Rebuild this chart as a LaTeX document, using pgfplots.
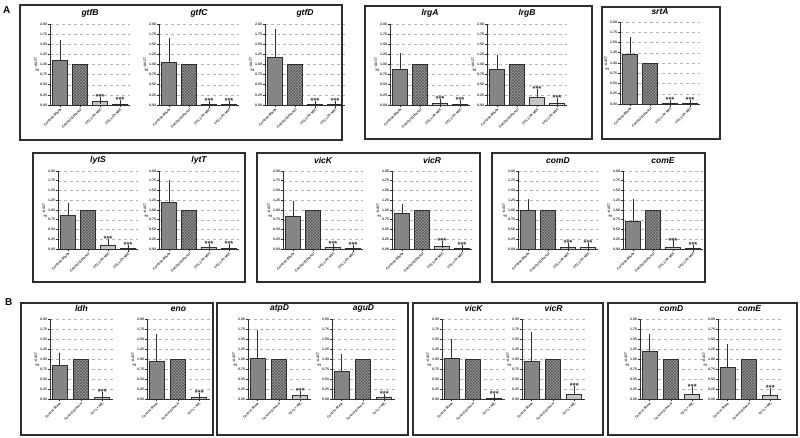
\documentclass[border=0pt]{standalone}
\usepackage{fontspec}
\setmainfont{Liberation Sans}
\usepackage{pgfplots}
\pgfplotsset{compat=1.18}
\usetikzlibrary{patterns}
\definecolor{edge}{HTML}{2E2E2E}
\definecolor{barA}{HTML}{858585}
\definecolor{barB}{HTML}{9A9A9A}
\definecolor{barC}{HTML}{C4C4C4}
\definecolor{barD}{HTML}{DADADA}

\pgfplotsset{
  gene/.style={
    scale only axis, anchor=south west, clip=false,
    axis lines=left, axis line style={edge, line width=0.9pt, -},
    ymin=0, ymax=2,
    ytick={0,0.25,...,2},
    yticklabels={0.00,0.25,0.50,0.75,1.00,1.25,1.50,1.75,2.00},
    ymajorgrids, grid style={gray!60, dashed, line width=0.35pt},
    tick align=outside, major tick length=2pt,
    tick style={edge, line width=0.6pt},
    ticklabel style={font=\fontsize{3.5}{4}\selectfont\bfseries, text=edge},
    yticklabel style={inner sep=0.8pt},
    xticklabel style={rotate=45, anchor=north east, inner sep=0.6pt},
    ylabel={2\textsuperscript{ –ΔΔCT}},
    ylabel style={font=\fontsize{4.6}{5}\selectfont\bfseries, text=edge, yshift=-3pt},
    title style={font=\fontsize{8.5}{9}\selectfont\bfseries\itshape, anchor=south, at={(0.5,1)}, inner sep=1pt},
    ybar, bar width=0.72,
  },
  four/.style={gene, xmin=-0.5, xmax=3.5, width=80pt,
    xtick={0,1,2,3},
    xticklabels={Control-Blank,Control-Ethanol,TF3 1/4× MIC,TF3 1/2× MIC}},
  three/.style={gene, xmin=-0.45, xmax=2.5, width=63pt, bar width=0.7,
    xtick={0,1,2},
    xticklabel style={font=\fontsize{3.2}{3.6}\selectfont\bfseries},
    xticklabels={Control-Blank,Control-Ethanol,TF3 1× MIC}},
  eb/.style={error bars/.cd, y dir=plus, y explicit,
    error bar style={edge, line width=0.8pt},
    error mark options={edge, line width=0.8pt, mark size=3.5pt}},
  b1/.style={fill=barA, draw=edge, line width=0.8pt, bar shift=0pt, eb},
  b2/.style={fill=barB, draw=edge, line width=0.8pt, bar shift=0pt,
    postaction={pattern=crosshatch, pattern color=edge!80}},
  b3/.style={fill=barC, draw=edge, line width=0.8pt, bar shift=0pt, eb},
  b4/.style={fill=barD, draw=edge, line width=0.8pt, bar shift=0pt, eb},
}
\tikzset{
  stars/.style={anchor=south, inner sep=0.3pt, font=\fontsize{7.5}{7.5}\selectfont\bfseries, text=edge},
  panel/.style={draw=edge, line width=1.4pt},
  letter/.style={anchor=north west, inner sep=0pt, font=\fontsize{10}{10}\selectfont\bfseries},
}

\begin{document}
\begin{tikzpicture}
\path[use as bounding box, fill=white] (0,0) rectangle (800pt,-437pt);

\node[letter] at (3pt,-6pt) {A};
\node[letter] at (5pt,-298pt) {B};

% ---------- A, row 1 ----------
\draw[panel] (20pt,-5pt) rectangle (342pt,-140pt);
\draw[panel] (365pt,-6pt) rectangle (592pt,-139pt);
\draw[panel] (602pt,-7pt) rectangle (720pt,-139pt);

\begin{axis}[four, at={(50pt,-105pt)}, height=81pt, title={gtfB}]
\addplot[b1] coordinates {(0,1.10) +- (0,0.42)};
\addplot[b2] coordinates {(1,1.00)};
\addplot[b3] coordinates {(2,0.08) +- (0,0.03)};
\addplot[b4] coordinates {(3,0.02) +- (0,0.01)};
\node[stars] at (axis cs:2,0.12) {***};
\node[stars] at (axis cs:3,0.04) {***};
\end{axis}

\begin{axis}[four, at={(159pt,-105pt)}, height=81pt, title={gtfC}]
\addplot[b1] coordinates {(0,1.05) +- (0,0.52)};
\addplot[b2] coordinates {(1,1.00)};
\addplot[b3] coordinates {(2,0.005) +- (0,0.002)};
\addplot[b4] coordinates {(3,0.004) +- (0,0.002)};
\node[stars] at (axis cs:2,0.02) {***};
\node[stars] at (axis cs:3,0.02) {***};
\end{axis}

\begin{axis}[four, at={(265pt,-105pt)}, height=81pt, title={gtfD}]
\addplot[b1] coordinates {(0,1.17) +- (0,0.63)};
\addplot[b2] coordinates {(1,1.00)};
\addplot[b3] coordinates {(2,0.01) +- (0,0.005)};
\addplot[b4] coordinates {(3,0.004) +- (0,0.002)};
\node[stars] at (axis cs:2,0.02) {***};
\node[stars] at (axis cs:3,0.02) {***};
\end{axis}

\begin{axis}[four, at={(390pt,-105pt)}, height=81pt, title={lrgA}]
\addplot[b1] coordinates {(0,0.88) +- (0,0.32)};
\addplot[b2] coordinates {(1,1.00)};
\addplot[b3] coordinates {(2,0.05) +- (0,0.01)};
\addplot[b4] coordinates {(3,0.02) +- (0,0.01)};
\node[stars] at (axis cs:2,0.07) {***};
\node[stars] at (axis cs:3,0.04) {***};
\end{axis}

\begin{axis}[four, at={(487pt,-105pt)}, height=81pt, title={lrgB}]
\addplot[b1] coordinates {(0,0.87) +- (0,0.29)};
\addplot[b2] coordinates {(1,1.00)};
\addplot[b3] coordinates {(2,0.20) +- (0,0.11)};
\addplot[b4] coordinates {(3,0.05) +- (0,0.04)};
\node[stars] at (axis cs:2,0.32) {***};
\node[stars] at (axis cs:3,0.10) {***};
\end{axis}

\begin{axis}[four, at={(620pt,-104pt)}, height=82pt, title={srtA}]
\addplot[b1] coordinates {(0,1.21) +- (0,0.33)};
\addplot[b2] coordinates {(1,1.00)};
\addplot[b3] coordinates {(2,0.01) +- (0,0.005)};
\addplot[b4] coordinates {(3,0.004) +- (0,0.002)};
\node[stars] at (axis cs:2,0.02) {***};
\node[stars] at (axis cs:3,0.02) {***};
\end{axis}

% ---------- A, row 2 ----------
\draw[panel] (33pt,-153pt) rectangle (245pt,-282pt);
\draw[panel] (257pt,-153pt) rectangle (480pt,-282pt);
\draw[panel] (492pt,-153pt) rectangle (705pt,-282pt);

\begin{axis}[four, at={(58pt,-249pt)}, height=78pt, title={lytS}]
\addplot[b1] coordinates {(0,0.86) +- (0,0.24)};
\addplot[b2] coordinates {(1,1.00)};
\addplot[b3] coordinates {(2,0.08) +- (0,0.08)};
\addplot[b4] coordinates {(3,0.01) +- (0,0.005)};
\node[stars] at (axis cs:2,0.17) {***};
\node[stars] at (axis cs:3,0.02) {***};
\end{axis}

\begin{axis}[four, at={(159pt,-249pt)}, height=78pt, title={lytT}]
\addplot[b1] coordinates {(0,1.20) +- (0,0.48)};
\addplot[b2] coordinates {(1,1.00)};
\addplot[b3] coordinates {(2,0.04) +- (0,0.01)};
\addplot[b4] coordinates {(3,0.02) +- (0,0.01)};
\node[stars] at (axis cs:2,0.06) {***};
\node[stars] at (axis cs:3,0.04) {***};
\end{axis}

\begin{axis}[four, at={(283pt,-249pt)}, height=78pt, title={vicK}]
\addplot[b1] coordinates {(0,0.83) +- (0,0.30)};
\addplot[b2] coordinates {(1,1.00)};
\addplot[b3] coordinates {(2,0.03) +- (0,0.02)};
\addplot[b4] coordinates {(3,0.004) +- (0,0.002)};
\node[stars] at (axis cs:2,0.06) {***};
\node[stars] at (axis cs:3,0.02) {***};
\end{axis}

\begin{axis}[four, at={(392pt,-249pt)}, height=78pt, title={vicR}]
\addplot[b1] coordinates {(0,0.91) +- (0,0.16)};
\addplot[b2] coordinates {(1,1.00)};
\addplot[b3] coordinates {(2,0.06) +- (0,0.05)};
\addplot[b4] coordinates {(3,0.01) +- (0,0.005)};
\node[stars] at (axis cs:2,0.12) {***};
\node[stars] at (axis cs:3,0.02) {***};
\end{axis}

\begin{axis}[four, at={(518pt,-249pt)}, height=78pt, title={comD}]
\addplot[b1] coordinates {(0,0.99) +- (0,0.20)};
\addplot[b2] coordinates {(1,1.00)};
\addplot[b3] coordinates {(2,0.05) +- (0,0.02)};
\addplot[b4] coordinates {(3,0.05) +- (0,0.02)};
\node[stars] at (axis cs:2,0.08) {***};
\node[stars] at (axis cs:3,0.08) {***};
\end{axis}

\begin{axis}[four, at={(623pt,-249pt)}, height=78pt, title={comE}]
\addplot[b1] coordinates {(0,0.71) +- (0,0.49)};
\addplot[b2] coordinates {(1,1.00)};
\addplot[b3] coordinates {(2,0.05) +- (0,0.08)};
\addplot[b4] coordinates {(3,0.01) +- (0,0.005)};
\node[stars] at (axis cs:2,0.14) {***};
\node[stars] at (axis cs:3,0.02) {***};
\end{axis}

% ---------- B ----------
\draw[panel] (21pt,-303pt) rectangle (213pt,-435pt);
\draw[panel] (217pt,-303pt) rectangle (408pt,-435pt);
\draw[panel] (413pt,-303pt) rectangle (603pt,-435pt);
\draw[panel] (608pt,-303pt) rectangle (797pt,-435pt);

\begin{axis}[three, at={(50pt,-399pt)}, height=80pt, title={ldh}]
\addplot[b1] coordinates {(0,0.84) +- (0,0.22)};
\addplot[b2] coordinates {(1,1.00)};
\addplot[b3] coordinates {(2,0.05) +- (0,0.03)};
\node[stars] at (axis cs:2,0.09) {***};
\end{axis}

\begin{axis}[three, at={(147pt,-399pt)}, height=80pt, title={eno}]
\addplot[b1] coordinates {(0,0.93) +- (0,0.60)};
\addplot[b2] coordinates {(1,1.00)};
\addplot[b3] coordinates {(2,0.05) +- (0,0.02)};
\node[stars] at (axis cs:2,0.08) {***};
\end{axis}

\begin{axis}[three, at={(248pt,-399pt)}, height=80pt, title={atpD}]
\addplot[b1] coordinates {(0,1.01) +- (0,0.64)};
\addplot[b2] coordinates {(1,1.00)};
\addplot[b3] coordinates {(2,0.08) +- (0,0.03)};
\node[stars] at (axis cs:2,0.12) {***};
\end{axis}

\begin{axis}[three, at={(332pt,-399pt)}, height=80pt, title={aguD}]
\addplot[b1] coordinates {(0,0.70) +- (0,0.35)};
\addplot[b2] coordinates {(1,1.00)};
\addplot[b3] coordinates {(2,0.03) +- (0,0.01)};
\node[stars] at (axis cs:2,0.05) {***};
\end{axis}

\begin{axis}[three, at={(442pt,-399pt)}, height=80pt, title={vicK}]
\addplot[b1] coordinates {(0,1.01) +- (0,0.41)};
\addplot[b2] coordinates {(1,1.00)};
\addplot[b3] coordinates {(2,0.02) +- (0,0.01)};
\node[stars] at (axis cs:2,0.04) {***};
\end{axis}

\begin{axis}[three, at={(522pt,-399pt)}, height=80pt, title={vicR}]
\addplot[b1] coordinates {(0,0.93) +- (0,0.65)};
\addplot[b2] coordinates {(1,1.00)};
\addplot[b3] coordinates {(2,0.12) +- (0,0.11)};
\node[stars] at (axis cs:2,0.24) {***};
\end{axis}

\begin{axis}[three, at={(640pt,-399pt)}, height=80pt, title={comD}]
\addplot[b1] coordinates {(0,1.20) +- (0,0.35)};
\addplot[b2] coordinates {(1,1.00)};
\addplot[b3] coordinates {(2,0.12) +- (0,0.10)};
\node[stars] at (axis cs:2,0.23) {***};
\end{axis}

\begin{axis}[three, at={(718pt,-399pt)}, height=80pt, title={comE}]
\addplot[b1] coordinates {(0,0.80) +- (0,0.49)};
\addplot[b2] coordinates {(1,1.00)};
\addplot[b3] coordinates {(2,0.09) +- (0,0.10)};
\node[stars] at (axis cs:2,0.20) {***};
\end{axis}

\end{tikzpicture}
\end{document}
